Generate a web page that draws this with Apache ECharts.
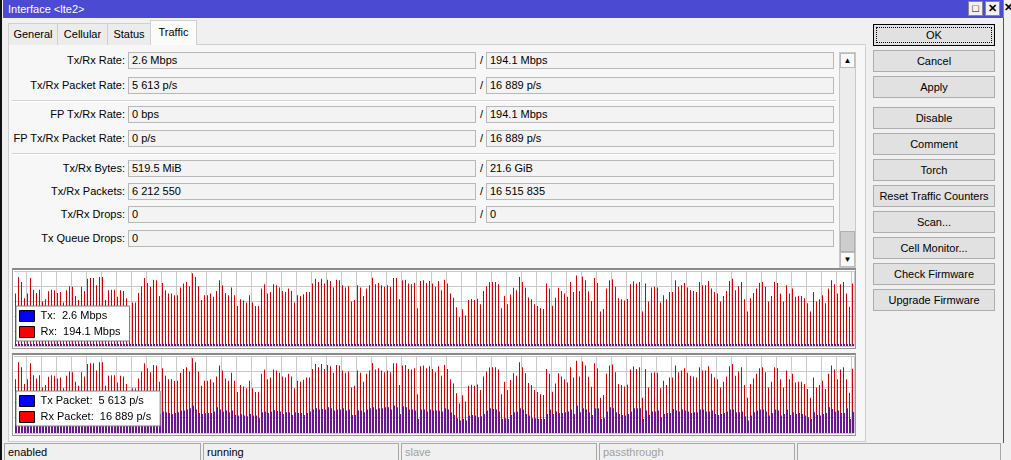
<!DOCTYPE html>
<html>
<head>
<meta charset="utf-8">
<script src="https://cdn.jsdelivr.net/npm/echarts@6/dist/echarts.min.js"></script>
<style>
  html,body{margin:0;padding:0;}
  body{width:1011px;height:460px;overflow:hidden;background:#f0f0f0;position:relative;
       font:11px 'Liberation Sans',Arial,sans-serif;color:#000;}
  .a{position:absolute;box-sizing:border-box;white-space:nowrap;}
  .title{left:3px;top:0;width:1000px;height:18px;background:#4a4ad2;color:#fff;padding-left:5px;line-height:18px;font-size:11px;}
  .wbtn{top:1px;width:15px;height:15px;background:#f0f0f0;border:1px solid #888;font-size:11px;line-height:12px;text-align:center;font-weight:bold;}
  .tab{top:23px;height:22px;background:#ececec;border:1px solid #d0d0d0;border-bottom:none;text-align:center;line-height:20px;}
  .tab.on{top:20px;height:25px;background:#fbfbfb;line-height:22px;z-index:2;}
  .panel{left:8px;top:44px;width:858px;height:398px;background:#f7f7f7;border:1px solid #d0d0d0;}
  .lbl{left:0;width:125px;text-align:right;height:17px;line-height:17px;}
  .fld{height:17px;border:1px solid #b8b8b8;background:#f3f3f3;padding-left:3px;line-height:15px;}
  .f1{left:128px;width:348px;}
  .f2{left:486px;width:348px;}
  .sl{left:480px;height:17px;line-height:17px;}
  .sep{left:12px;width:824px;height:2px;border-top:1px solid #d2d2d2;border-bottom:1px solid #fff;}
  .btn{left:873px;width:122px;height:22px;border:1px solid #adadad;background:#e1e1e1;text-align:center;line-height:20px;}
  .sb{top:443px;height:17px;border:1px solid #a8a8a8;border-bottom:none;padding-left:3px;line-height:16px;background:#f0f0f0;}
  .frame{left:12px;width:844px;background:#fff;border:1px solid #9a9a9a;border-top:2px solid #8a8a8a;}
</style>
</head>
<body>
<div class="a" style="left:0;top:0;width:2px;height:460px;background:#111;"></div>
<div class="a title">Interface &lt;lte2&gt;</div>
<div class="a wbtn" style="left:968px;">&#9633;</div>
<div class="a wbtn" style="left:985px;">&#10005;</div>
<div class="a" style="left:1003px;top:0;width:8px;height:18px;background:#f0f0f0;border-left:1px solid #888;font-weight:bold;line-height:14px;">&#10005;</div>
<div class="a" style="left:1003px;top:18px;width:1px;height:425px;background:#555;"></div>

<div class="a panel"></div>
<div class="a tab" style="left:8px;width:50px;">General</div>
<div class="a tab" style="left:57px;width:51px;">Cellular</div>
<div class="a tab" style="left:107px;width:44px;">Status</div>
<div class="a tab on" style="left:150px;width:47px;">Traffic</div>

<div class="a lbl" style="top:52px;">Tx/Rx Rate:</div>
<div class="a fld f1" style="top:52px;">2.6 Mbps</div><div class="a sl" style="top:52px;">/</div>
<div class="a fld f2" style="top:52px;">194.1 Mbps</div>

<div class="a lbl" style="top:77px;">Tx/Rx Packet Rate:</div>
<div class="a fld f1" style="top:77px;">5 613 p/s</div><div class="a sl" style="top:77px;">/</div>
<div class="a fld f2" style="top:77px;">16 889 p/s</div>

<div class="a sep" style="top:100px;"></div>

<div class="a lbl" style="top:106px;">FP Tx/Rx Rate:</div>
<div class="a fld f1" style="top:106px;">0 bps</div><div class="a sl" style="top:106px;">/</div>
<div class="a fld f2" style="top:106px;">194.1 Mbps</div>

<div class="a lbl" style="top:130px;">FP Tx/Rx Packet Rate:</div>
<div class="a fld f1" style="top:130px;">0 p/s</div><div class="a sl" style="top:130px;">/</div>
<div class="a fld f2" style="top:130px;">16 889 p/s</div>

<div class="a sep" style="top:153px;"></div>

<div class="a lbl" style="top:160px;">Tx/Rx Bytes:</div>
<div class="a fld f1" style="top:160px;">519.5 MiB</div><div class="a sl" style="top:160px;">/</div>
<div class="a fld f2" style="top:160px;">21.6 GiB</div>

<div class="a lbl" style="top:183px;">Tx/Rx Packets:</div>
<div class="a fld f1" style="top:183px;">6 212 550</div><div class="a sl" style="top:183px;">/</div>
<div class="a fld f2" style="top:183px;">16 515 835</div>

<div class="a lbl" style="top:206px;">Tx/Rx Drops:</div>
<div class="a fld f1" style="top:206px;">0</div><div class="a sl" style="top:206px;">/</div>
<div class="a fld f2" style="top:206px;">0</div>

<div class="a lbl" style="top:230px;">Tx Queue Drops:</div>
<div class="a fld" style="top:230px;left:128px;width:706px;">0</div>

<div class="a" style="left:839px;top:52px;width:17px;height:216px;background:#ececec;border:1px solid #c8c8c8;"></div>
<div class="a" style="left:840px;top:53px;width:15px;height:15px;background:#fafafa;border:1px solid #bbb;font-size:8px;text-align:center;line-height:13px;">&#9650;</div>
<div class="a" style="left:840px;top:231px;width:15px;height:21px;background:#cdcdcd;border:1px solid #b0b0b0;"></div>
<div class="a" style="left:840px;top:252px;width:15px;height:15px;background:#fafafa;border:1px solid #bbb;font-size:8px;text-align:center;line-height:13px;">&#9660;</div>

<div class="a frame" style="top:268px;height:81px;"></div>
<div class="a frame" style="top:353px;height:83px;"></div>
<div class="a" id="chart" style="left:12px;top:268px;width:844px;height:170px;"></div>

<div class="a btn" style="top:24px;border:1px solid #000;outline:1px dotted #000;outline-offset:-4px;">OK</div>
<div class="a btn" style="top:50px;">Cancel</div>
<div class="a btn" style="top:76px;">Apply</div>
<div class="a btn" style="top:107px;">Disable</div>
<div class="a btn" style="top:133px;">Comment</div>
<div class="a btn" style="top:159px;">Torch</div>
<div class="a btn" style="top:185px;">Reset Traffic Counters</div>
<div class="a btn" style="top:211px;">Scan...</div>
<div class="a btn" style="top:237px;">Cell Monitor...</div>
<div class="a btn" style="top:263px;">Check Firmware</div>
<div class="a btn" style="top:289px;">Upgrade Firmware</div>

<div class="a sb" style="left:4px;width:197px;">enabled</div>
<div class="a sb" style="left:203px;width:196px;">running</div>
<div class="a sb" style="left:401px;width:196px;color:#a0a0a0;">slave</div>
<div class="a sb" style="left:599px;width:196px;color:#a0a0a0;">passthrough</div>
<div class="a sb" style="left:797px;width:204px;"></div>

<script>
// ---- data (one value per sample, oldest first) ----
const rxRate = [
163,214,199,148,163,211,175,165,175,138,145,170,175,173,165,168,135,173,186,184,155,143,184,171,209,211,211,189,214,214,143,173,175,175,153,173,171,148,110,135,135,165,186,211,196,184,206,204,155,196,173,163,163,158,158,182,194,199,186,226,214,186,143,158,158,163,153,171,204,189,
165,158,182,158,124,145,141,135,158,135,124,124,179,192,163,168,192,189,182,171,168,179,171,135,158,155,161,168,168,194,209,199,209,194,206,202,182,206,204,189,182,186,138,143,189,182,155,179,189,212,192,196,189,184,189,184,211,211,145,204,206,194,192,196,117,202,204,196,202,194,
184,202,173,206,194,163,150,120,89,114,95,143,146,143,147,130,171,186,198,199,199,192,117,155,130,160,181,173,214,199,181,151,145,130,124,117,115,194,179,125,150,181,171,163,153,199,168,219,171,216,204,170,140,211,196,107,115,179,204,207,184,148,145,141,146,192,201,194,199,
107,194,138,182,184,182,135,158,145,168,168,204,184,189,196,182,173,171,168,199,189,189,202,179,168,163,138,155,171,202,209,173,186,199,145,107,148,165,179,196,199,184,138,155,199,196,163,138,189,163,179,153,155,155,148,133,107,168,138,145,158,133,179,204,192,163,192,199,163,122,194.1
];
const txRate = [
2.4,2.9,2.7,2.2,2.4,2.9,2.5,2.3,2.5,2.0,2.1,2.4,2.5,2.5,2.4,2.4,2.0,2.5,2.6,2.6,2.3,2.1,2.6,2.5,2.9,2.9,2.9,2.7,3.0,2.9,2.1,2.5,2.5,2.5,2.2,2.5,2.4,2.2,1.7,2.0,2.0,2.4,2.6,2.9,2.8,2.6,3.3,2.7,2.3,2.6,2.5,2.4,2.3,2.4,2.5,2.7,2.7,2.9,3.0,3.3,2.9,2.4,2.3,2.4,2.4,2.4,2.6,3.1,2.9,2.6,
2.7,2.5,2.7,2.2,2.1,2.3,2.1,2.0,2.3,2.1,2.1,1.8,2.5,2.6,2.4,2.6,2.8,2.7,2.6,2.3,2.5,2.5,2.2,2.5,2.4,2.4,2.2,2.4,2.6,2.9,3.0,2.9,2.9,2.9,3.1,3.0,2.7,2.9,2.9,3.0,2.7,2.9,2.2,2.2,2.7,2.7,2.5,2.9,3.0,3.1,2.9,3.0,3.0,3.1,3.1,2.9,3.3,3.1,2.3,3.3,3.1,2.9,2.9,2.7,1.7,2.9,2.9,2.6,2.9,2.7,
2.7,2.7,2.6,3.0,2.9,2.5,2.2,1.8,1.5,1.7,1.5,2.1,2.2,2.1,1.9,2.0,2.3,2.7,3.0,2.9,2.9,2.6,1.7,1.8,1.7,2.2,2.5,2.6,3.0,2.9,2.3,2.1,1.8,1.8,1.7,1.7,1.7,2.3,2.9,2.3,2.6,2.4,2.4,2.5,2.6,2.9,2.3,3.3,2.5,3.0,2.9,2.5,2.2,3.0,3.0,1.7,1.8,2.6,3.1,3.0,2.5,2.3,2.2,2.1,2.3,2.6,3.0,3.0,3.0,
1.7,2.7,2.2,2.6,2.6,2.7,1.9,2.3,2.4,2.4,2.9,2.7,2.6,2.9,2.7,2.6,2.4,2.5,2.5,2.9,2.9,2.6,2.6,2.7,2.3,2.2,2.3,2.4,2.6,2.9,2.9,2.5,2.5,2.6,2.0,1.5,2.1,2.5,2.7,2.9,2.9,2.6,2.1,2.4,2.9,2.7,2.1,2.3,2.9,2.2,2.5,2.3,2.4,2.3,2.1,1.9,1.7,2.5,2.2,2.1,2.3,2.4,3.1,2.9,2.6,2.7,2.4,2.4,3.0,1.7,2.6
];
const rxPackets = [
14180,18620,17310,12880,14180,18360,15230,14360,15230,12010,12620,14790,15230,15050,14360,14620,11750,15050,16180,16010,13490,12440,16010,14880,18180,18360,18360,16440,18620,18620,12440,15050,15230,15230,13310,15050,14880,12880,9570,11750,11750,14360,16180,18360,17050,16010,17920,17750,13490,17050,15050,14180,14180,13750,13750,15830,16880,17310,16180,19660,18620,16180,12440,13750,13750,14180,13310,14880,17750,16440,
14360,13750,15830,13750,10790,12620,12270,11750,13750,11750,10790,10790,15570,16700,14180,14620,16700,16440,15830,14880,14620,15570,14880,11750,13750,13490,14010,14620,14620,16880,18180,17310,18180,16880,17920,17570,15830,17920,17750,16440,15830,16180,12010,12440,16440,15830,13490,15570,16440,18440,16700,17050,16440,16010,16440,16010,18360,18360,12620,17750,17920,16880,16700,17050,10180,17570,17750,17050,17570,16880,
16010,17570,15050,17920,16880,14180,13050,10440,7740,9920,8270,12440,12700,12440,12790,11310,14880,16180,17230,17310,17310,16700,10180,13490,11310,13920,15750,15050,18620,17310,15750,13140,12620,11310,10790,10180,10010,16880,15570,10880,13050,15750,14880,14180,13310,17310,14620,19050,14880,18790,17750,14790,12180,18360,17050,9310,10010,15570,17750,18010,16010,12880,12620,12270,12700,16700,17490,16880,17310,
9310,16880,12010,15830,16010,15830,11750,13750,12620,14620,14620,17750,16010,16440,17050,15830,15050,14880,14620,17310,16440,16440,17570,15570,14620,14180,12010,13490,14880,17570,18180,15050,16180,17310,12620,9310,12880,14360,15570,17050,17310,16010,12010,13490,17310,17050,14180,12010,16440,14180,15570,13310,13490,13490,12880,11570,9310,14620,12010,12620,13750,11570,15570,17750,16700,14180,16700,17310,14180,10610,16889
];
const txPackets = [
5290,6300,5900,4700,5100,6200,5400,5000,5300,4400,4600,5200,5500,5300,5100,5200,4300,5400,5700,5600,4900,4500,5600,5300,6200,6300,6200,5800,6400,6300,4500,5300,5400,5400,4800,5300,5200,4700,3700,4300,4400,5100,5700,6300,6000,5600,7220,5900,5000,5640,5460,5290,5020,5290,5460,5900,5900,6170,6520,7220,6170,5290,5020,5200,5290,5290,5640,6780,6170,5640,
5900,5460,5900,4760,4580,4930,4580,4400,5020,4580,4580,3880,5460,5640,5290,5640,5990,5810,5640,5020,5460,5460,4760,5460,5290,5290,4760,5290,5640,6170,6520,6170,6340,6170,6780,6520,5900,6170,6170,6520,5900,6170,4760,4760,5900,5900,5460,6170,6520,6780,6170,6520,6520,6780,6780,6170,7220,6780,5020,7050,6780,6170,6170,5900,3700,6170,6170,5640,6170,5900,
5900,5900,5640,6520,6170,5460,4760,3880,3260,3700,3260,4580,4760,4580,4140,4400,5020,5900,6520,6340,6170,5640,3700,3880,3700,4760,5460,5640,6520,6170,5020,4580,3880,3880,3700,3700,3700,5020,6170,5020,5640,5290,5290,5460,5640,6170,5020,7220,5460,6520,6170,5460,4760,6520,6520,3700,3880,5640,6780,6520,5460,5020,4760,4580,5020,5640,6520,6520,6520,
3700,5900,4760,5640,5640,5900,4140,5020,5290,5290,6340,5900,5640,6170,5900,5640,5290,5460,5460,6170,6170,5640,5640,5900,5020,4760,5020,5290,5640,6170,6170,5460,5460,5640,4400,3260,4580,5460,5900,6170,6170,5640,4580,5290,6170,5900,4580,5020,6170,4760,5460,5020,5290,5020,4580,4140,3700,5460,4760,4580,5020,5290,6780,6340,5640,5900,5290,5290,6520,3700,5613
];
const samples = rxRate.map((_, i) => String(i + 1));
const rateAxisMax = 233, rateStep = 46.6;
const pktAxisMax = 20270, pktStep = 4054;

// ---- helpers ----
const FONT = "'Liberation Sans', Arial, sans-serif";
const last = a => a[a.length - 1];
const grp = n => String(n).replace(/\B(?=(\d{3})+(?!\d))/g, ' ');
const RED = '#d20000', PURPLE = '#6c168e', GRIDC = '#c9c9c9';

function xAx(gi, showGrid) {
  return {
    type: 'category', gridIndex: gi, data: samples, boundaryGap: true,
    axisLine: {show: false}, axisTick: {show: false}, axisLabel: {show: false},
    splitLine: {show: showGrid, interval: (i) => i % 5 === 4, lineStyle: {color: GRIDC, width: 1}}
  };
}
function yAx(gi, max, step, showGrid) {
  return {
    type: 'value', gridIndex: gi, min: 0, max: max, interval: step,
    axisLine: {show: false}, axisTick: {show: false}, axisLabel: {show: false},
    splitLine: {show: showGrid, lineStyle: {color: GRIDC, width: 1}}
  };
}
function legend(top, items, fmt) {
  return {
    orient: 'vertical', left: 4, top: top, selectedMode: false,
    icon: 'rect', itemWidth: 15, itemHeight: 11, itemGap: 4,
    padding: [4, 9, 3, 3], backgroundColor: '#ffffff', borderColor: '#7f7f7f', borderWidth: 1,
    textStyle: {fontSize: 11, fontFamily: FONT, color: '#000', padding: [0, 0, 0, 1]},
    data: items, formatter: fmt
  };
}

const chart = echarts.init(document.getElementById('chart'), null, {renderer: 'canvas'});
chart.setOption({
  animation: false,
  grid: [
    {left: 2, top: 3, width: 840, height: 75},
    {left: 2.5, top: 3, width: 840, height: 75},
    {left: 2, top: 88, width: 840, height: 77},
    {left: 2.5, top: 88, width: 840, height: 77}
  ],
  xAxis: [xAx(0, true), xAx(1, false), xAx(2, true), xAx(3, false)],
  yAxis: [
    yAx(0, rateAxisMax, rateStep, true), yAx(1, rateAxisMax, rateStep, false),
    yAx(2, pktAxisMax, pktStep, true), yAx(3, pktAxisMax, pktStep, false)
  ],
  legend: [
    legend(38, [
      {name: 'Tx', itemStyle: {color: '#0000ff', borderColor: '#000', borderWidth: 1}},
      {name: 'Rx', itemStyle: {color: '#ff0000', borderColor: '#000', borderWidth: 1}}
    ], n => n === 'Tx' ? 'Tx:  ' + last(txRate) + ' Mbps' : 'Rx:  ' + last(rxRate) + ' Mbps'),
    legend(123, [
      {name: 'Tx Packet', itemStyle: {color: '#0000ff', borderColor: '#000', borderWidth: 1}},
      {name: 'Rx Packet', itemStyle: {color: '#ff0000', borderColor: '#000', borderWidth: 1}}
    ], n => n === 'Tx Packet' ? 'Tx Packet:  ' + grp(last(txPackets)) + ' p/s' : 'Rx Packet:  ' + grp(last(rxPackets)) + ' p/s')
  ],
  series: [
    {name: 'Rx', type: 'bar', xAxisIndex: 0, yAxisIndex: 0, data: rxRate, barWidth: 1, itemStyle: {color: RED}, silent: true},
    {name: 'Tx', type: 'bar', xAxisIndex: 1, yAxisIndex: 1, data: txRate, barWidth: 2, barMinHeight: 2, itemStyle: {color: PURPLE}, silent: true},
    {name: 'Rx Packet', type: 'bar', xAxisIndex: 2, yAxisIndex: 2, data: rxPackets, barWidth: 1, itemStyle: {color: RED}, silent: true},
    {name: 'Tx Packet', type: 'bar', xAxisIndex: 3, yAxisIndex: 3, data: txPackets, barWidth: 2, itemStyle: {color: PURPLE}, silent: true}
  ]
});
</script>
</body>
</html>
